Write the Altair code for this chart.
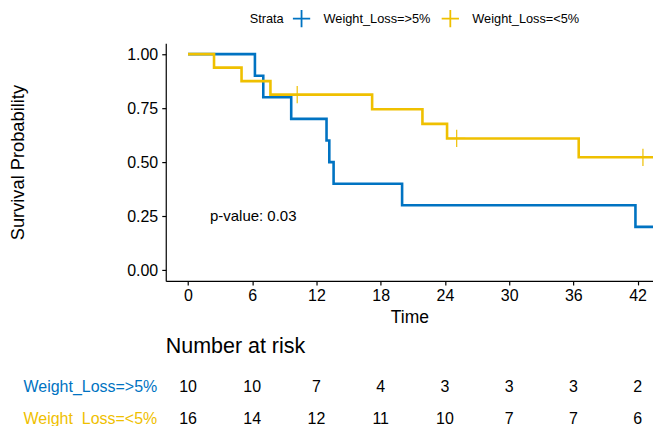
import altair as alt
import pandas as pd

BLUE = "#0073C2"
YELLOW = "#EFC000"
FONT = "Liberation Sans"

STRATA = ["Weight_Loss=>5%", "Weight_Loss=<5%"]

# Kaplan-Meier step points (time, survival)
BLUE_T = [0, 6.25, 7.03, 9.64, 12.94, 13.2, 13.6, 20.0, 41.8, 44.3]
BLUE_S = [1.0, 0.9, 0.8, 0.7, 0.6, 0.5, 0.4, 0.3, 0.2, 0.2]
YEL_T = [0, 2.43, 5.0, 7.7, 17.2, 21.9, 24.2, 36.5, 44.3]
YEL_S = [1.0, 0.9375, 0.875, 0.8125, 0.7448, 0.6771, 0.6094, 0.5223, 0.5223]

# censor marks
CENS_T = [10.2, 25.1, 42.5]
CENS_S = [0.8125, 0.6094, 0.5223]

# number at risk
RISK_T = [0, 6, 12, 18, 24, 30, 36, 42]
RISK_BLUE = [10, 10, 7, 4, 3, 3, 3, 2]
RISK_YEL = [16, 14, 12, 11, 10, 7, 7, 6]

PVAL_X = [2.05]
PVAL_Y = [0.25]
PVAL_TXT = ["p-value: 0.03"]

X_DOMAIN = [-2.08, 43.44]
Y_DOMAIN = [-0.05, 1.05]

curve = pd.DataFrame(
    {"time": BLUE_T + YEL_T,
     "surv": BLUE_S + YEL_S,
     "strata": [STRATA[0]] * len(BLUE_T) + [STRATA[1]] * len(YEL_T),
     "ord": [0] * len(BLUE_T) + [1] * len(YEL_T)}
)
cens = pd.DataFrame({"time": CENS_T, "surv": CENS_S, "strata": [STRATA[1]] * len(CENS_T)})
risk = pd.DataFrame(
    {"time": RISK_T + RISK_T,
     "strata": [STRATA[0]] * len(RISK_T) + [STRATA[1]] * len(RISK_T),
     "n": RISK_BLUE + RISK_YEL}
)
pval = pd.DataFrame({"time": PVAL_X, "surv": PVAL_Y, "txt": PVAL_TXT})

color_scale = alt.Scale(domain=STRATA, range=[BLUE, YELLOW])
PLUS = "M0,-1L0,1M-1,0L1,0"

legend = alt.Legend(
    title="Strata", orient="none", legendX=84, legendY=-35, direction="horizontal",
    titleOrient="left", titleFontSize=12.8, titleFontWeight="normal", titleColor="black",
    labelFontSize=12.8, labelColor="black", symbolType=PLUS, symbolSize=300,
    symbolStrokeWidth=1.8, symbolFillColor="transparent", columnPadding=6,
    labelOffset=12, titlePadding=7,
)

x_enc = alt.X(
    "time:Q",
    scale=alt.Scale(domain=X_DOMAIN, nice=False, zero=False),
    axis=alt.Axis(values=RISK_T, title="Time", titleFontSize=17.5, titleFontWeight="normal",
                  labelFontSize=16, tickSize=4, labelPadding=3, titlePadding=5,
                  domainColor="black", tickColor="black", labelColor="black",
                  titleColor="black", domainWidth=1.2, tickWidth=1.2, grid=False, labelFlush=False),
)
y_enc = alt.Y(
    "surv:Q",
    scale=alt.Scale(domain=Y_DOMAIN, nice=False, zero=False),
    axis=alt.Axis(values=[0, 0.25, 0.5, 0.75, 1.0], format=".2f", title="Survival Probability",
                  titleFontSize=18.3, titleFontWeight="normal", labelFontSize=16, tickSize=4,
                  labelPadding=4, titlePadding=99, domainColor="black", tickColor="black",
                  labelColor="black", titleColor="black", domainWidth=1.2, tickWidth=1.2,
                  grid=False, labelFlush=False),
)

lines = alt.Chart(curve).mark_line(interpolate="step-after", strokeWidth=2.6, clip=True).encode(
    x=x_enc, y=y_enc,
    color=alt.Color("strata:N", scale=color_scale, legend=legend),
    detail="ord:N",
    order=alt.Order("time:Q"),
)

points = alt.Chart(cens).mark_point(shape=PLUS, filled=False, size=300, strokeWidth=1.2, opacity=1, clip=True).encode(
    x="time:Q", y="surv:Q",
    color=alt.Color("strata:N", scale=color_scale, legend=legend),
)

ptext = alt.Chart(pval).mark_text(align="left", baseline="middle", fontSize=15, color="black").encode(
    x="time:Q", y="surv:Q", text="txt:N"
)

main = alt.layer(lines, points, ptext).properties(width=488, height=238)

risk_chart = alt.Chart(risk).mark_text(fontSize=16, color="black", baseline="middle").encode(
    x=alt.X("time:Q", scale=alt.Scale(domain=X_DOMAIN, nice=False, zero=False), axis=None),
    y=alt.Y("strata:N", sort=STRATA,
            scale=alt.Scale(paddingInner=0, paddingOuter=0),
            axis=alt.Axis(title=None, domain=False, ticks=False, labelFontSize=16, labelPadding=9,
                          labelLimit=300,
                          labelColor={"condition": {"test": f"datum.value == '{STRATA[0]}'", "value": BLUE},
                                      "value": YELLOW})),
    text="n:Q",
).properties(
    width=488, height=64,
    title=alt.TitleParams("Number at risk", anchor="start", frame="group", fontSize=21.5,
                          fontWeight="normal", offset=13, color="black"),
)

chart = alt.vconcat(main, risk_chart, spacing=90, bounds="flush").properties(
    padding={"left": 0, "top": 0, "right": 0, "bottom": 0}
).configure(font=FONT).configure_view(stroke=None)

chart.save("out.html", embed_options={"renderer": "svg", "actions": False})
